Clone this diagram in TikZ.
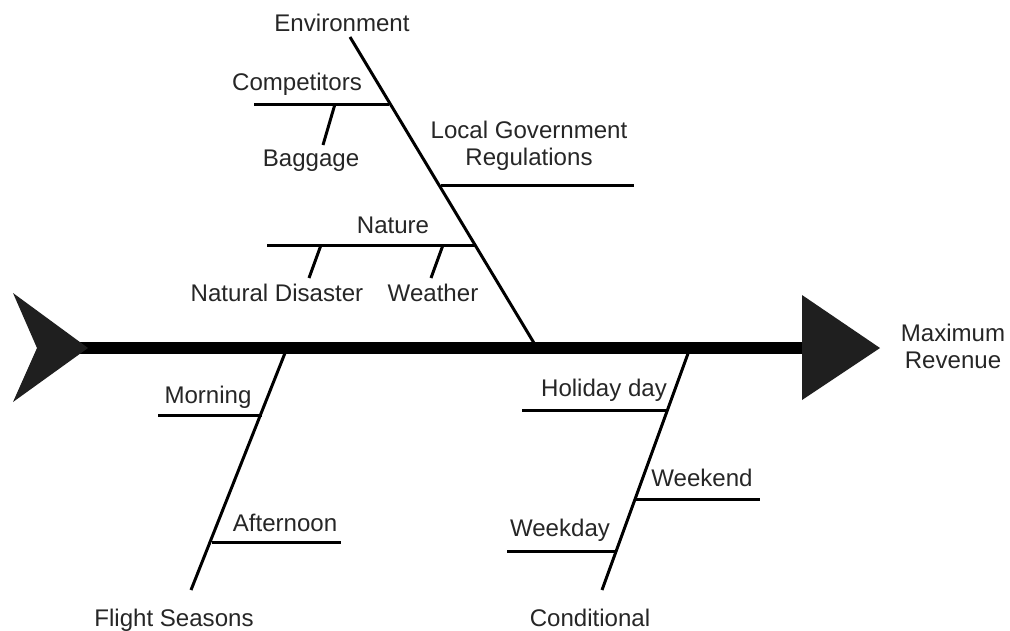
\documentclass[tikz,border=0pt]{standalone}
\usepackage{fontspec}
\setmainfont{Liberation Sans}
\usetikzlibrary{positioning}
\tikzset{
    spine/.style={line width=6.8pt},
    bone/.style={line width=1.7pt},
    fin/.style={fill=black!88, draw=none},
    lbl/.style={font=\fontsize{13.7}{15.4}\selectfont, text=black!85, inner sep=0pt, align=center},
    cause/.style={lbl, anchor=base},
}

\begin{document}
\begin{tikzpicture}[x=0.02cm, y=-0.02cm]
    \useasboundingbox (0,0) rectangle (1010,630);

    % spine with tail and head
    \coordinate (tail) at (55,348);
    \coordinate (mouth) at (802,348);
    \draw[spine] (tail) -- (mouth);
    \fill[fin] (13,293) -- (88,348) -- (13,402) -- (37,348) -- cycle;
    \fill[fin] (802,295) -- (880,348) -- (802,400) -- cycle;
    \node[lbl] (goal) at (953,346) {Maximum\\Revenue};

    % upper bone
    \coordinate (envTop) at (350,37);
    \coordinate (envFoot) at (537,348);
    \coordinate (compL) at (254,104);
    \coordinate (compR) at (389,104);
    \coordinate (bagTop) at (335,104);
    \coordinate (bagEnd) at (323,145);
    \coordinate (lgrL) at (441,185);
    \coordinate (lgrR) at (634,185);
    \coordinate (natL) at (267,245);
    \coordinate (natR) at (475,245);
    \coordinate (disTop) at (321,245);
    \coordinate (disEnd) at (309,278);
    \coordinate (wthTop) at (443,245);
    \coordinate (wthEnd) at (431,278);

    % lower bones
    \coordinate (fltFoot) at (287,348);
    \coordinate (fltEnd) at (191,590);
    \coordinate (mornL) at (158,415);
    \coordinate (mornR) at (262,415);
    \coordinate (aftL) at (212,542);
    \coordinate (aftR) at (341,542);
    \coordinate (condFoot) at (690,348);
    \coordinate (condEnd) at (602,590);
    \coordinate (holL) at (522,410);
    \coordinate (holR) at (668,410);
    \coordinate (wkeL) at (635,499);
    \coordinate (wkeR) at (760,499);
    \coordinate (wkdL) at (507,551);
    \coordinate (wkdR) at (616,551);

    \foreach \a/\b in {envTop/envFoot, compL/compR, bagTop/bagEnd, lgrL/lgrR, natL/natR, disTop/disEnd, wthTop/wthEnd, fltFoot/fltEnd, mornL/mornR, aftL/aftR, condFoot/condEnd, holL/holR, wkeL/wkeR, wkdL/wkdR} {
        \draw[bone] (\a) -- (\b);
    }

    \node[cause] (env) at (342,31) {Environment};
    \node[cause] (comp) at (297,90) {Competitors};
    \node[cause] (bag) at (311,166) {Baggage};
    \node[lbl] (lgr) at (529,146) {Local Government\\Regulations};
    \node[cause] (nat) at (393,233) {Nature};
    \node[cause] (dis) at (277,301) {Natural Disaster};
    \node[cause] (wth) at (433,301) {Weather};

    \node[cause] (morn) at (208,403) {Morning};
    \node[cause] (aft) at (285,531) {Afternoon};
    \node[cause] (flt) at (174,626) {Flight Seasons};
    \node[cause] (hol) at (604,396) {Holiday day};
    \node[cause] (wke) at (702,486) {Weekend};
    \node[cause] (wkd) at (560,536) {Weekday};
    \node[cause] (cond) at (590,626) {Conditional};
\end{tikzpicture}
\end{document}
